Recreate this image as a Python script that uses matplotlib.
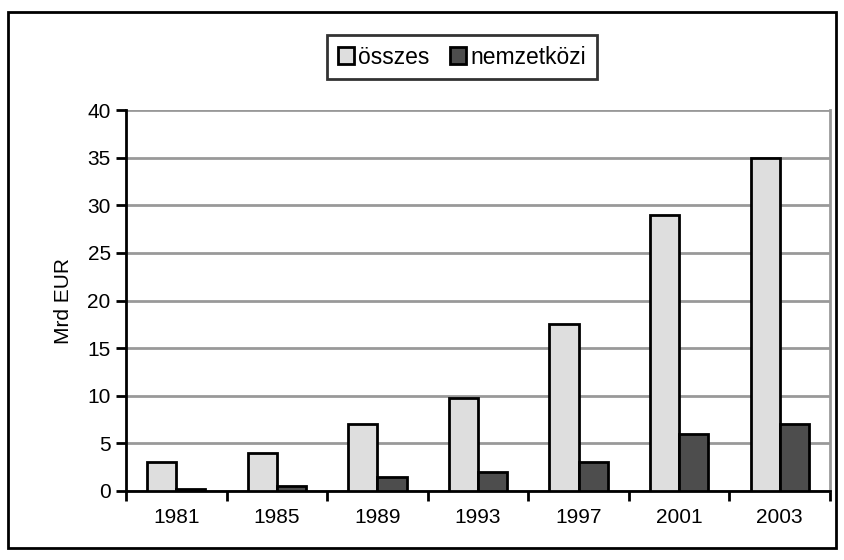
import matplotlib
matplotlib.use("Agg")
import matplotlib.pyplot as plt
import numpy as np
from matplotlib.patches import Rectangle

plt.rcParams['font.family'] = ['Liberation Sans', 'DejaVu Sans']

years = ["1981", "1985", "1989", "1993", "1997", "2001", "2003"]
osszes = [3, 4, 7, 9.8, 17.5, 29, 35]
nemzetkozi = [0.2, 0.5, 1.5, 2, 3, 6, 7]

fig = plt.figure(figsize=(8.44, 5.6), dpi=100)
ax = fig.add_axes([126/844, 1-491/560, (830-126)/844, (491-110)/560])

x = np.arange(len(years))
w = 0.29
ax.bar(x - w/2, osszes, w, color="#dedede", edgecolor="black", linewidth=2, label="összes", zorder=3)
ax.bar(x + w/2, nemzetkozi, w, color="#4d4d4d", edgecolor="black", linewidth=2, label="nemzetközi", zorder=3)

ax.set_xlim(-0.5, len(years) - 0.5)
ax.set_ylim(0, 40)
ax.set_yticks(range(0, 41, 5))
ax.yaxis.grid(True, color="#999999", linewidth=2, zorder=0)
ax.set_xticks(x)
ax.set_xticklabels(years)
ax.set_xticks(np.arange(-0.5, len(years)), minor=True)
ax.tick_params(axis="x", which="major", length=0, labelsize=15, pad=12)
ax.tick_params(axis="x", which="minor", length=7, width=2, direction="out")
ax.tick_params(axis="y", length=7, width=2, direction="out", labelsize=15, pad=4)
ax.set_ylabel("Mrd EUR", fontsize=15, labelpad=10)

ax.spines["top"].set_visible(False)
ax.spines["right"].set_color("#999999")
ax.spines["right"].set_linewidth(2)
ax.spines["left"].set_linewidth(2)
ax.spines["bottom"].set_linewidth(2)

leg = fig.legend(loc="center", bbox_to_anchor=(462/844, 1-57/560), ncol=2,
                 fontsize=16.5, frameon=True, fancybox=False, edgecolor="black",
                 handlelength=0.7, handleheight=0.7, handletextpad=0.2,
                 columnspacing=0.9, borderpad=0.45)
leg.get_frame().set_linewidth(2)

fig.patches.append(Rectangle((8/844, 1-548/560), (836-8)/844, (548-12)/560,
                             transform=fig.transFigure, fill=False,
                             edgecolor="black", linewidth=2))

fig.savefig("out.png", dpi=100)
